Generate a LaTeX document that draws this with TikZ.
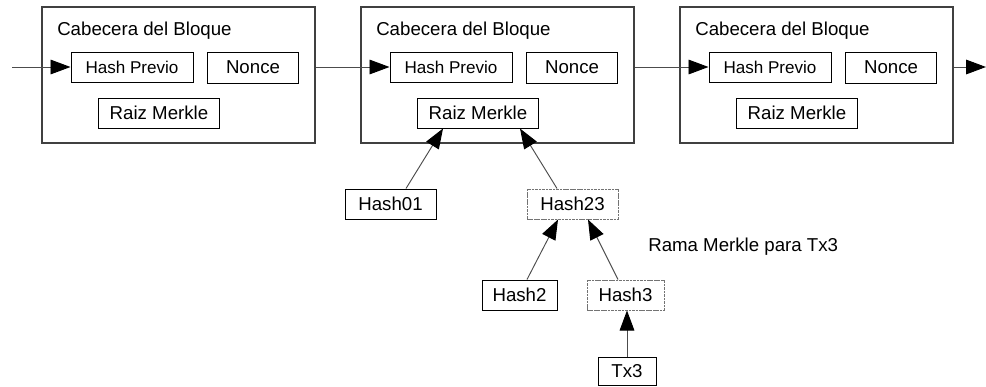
\documentclass[tikz,border=0pt]{standalone}
\usepackage{fontspec}
\setmainfont{Liberation Sans}
\usetikzlibrary{arrows.meta,calc}

\tikzset{
  blockbox/.style={draw=black!75, line width=0.8pt, minimum width=204.75pt, minimum height=102pt},
  field/.style={draw, line width=0.75pt, minimum height=22.5pt, inner sep=0pt, font=\fontsize{14}{16}\selectfont},
  branch/.style={field, draw=black!55, dashed, dash pattern=on 2pt off 0.6pt},
  label/.style={inner sep=0pt, font=\fontsize{14}{16}\selectfont},
  arr/.style={draw=black!70, line width=0.7pt, -{Triangle[length=15pt,width=11pt,fill=black,color=black]}}
}

\begin{document}
\begin{tikzpicture}[x=0.75pt, y=-0.75pt]
  \useasboundingbox (0,0) rectangle (986,386);
  % the three blocks of the chain
  \foreach \i/\L in {1/42, 2/361, 3/680} {
    \node[blockbox] (b\i) at (\L+136.5, 75) {};
    \node[label, anchor=base west] (t\i) at (\L+15, 35) {Cabecera del Bloque};
    \node[field, minimum width=91.5pt, font=\fontsize{12.8}{15}\selectfont] (hp\i) at (\L+90, 67) {Hash Previo};
    \node[field, minimum width=68.25pt, minimum height=23.25pt] (n\i) at (\L+211, 67.5) {Nonce};
    \node[field, minimum width=90.75pt] (r\i) at (\L+117, 113) {Raiz Merkle};
  }
  \coordinate (in) at (12, 67);
  \coordinate (out) at (986, 67);
  \draw[arr] (in) -- (hp1.west);
  \draw[arr] (b1.east |- hp2.west) -- (hp2.west);
  \draw[arr] (b2.east |- hp3.west) -- (hp3.west);
  \draw[arr] (b3.east |- out) -- (out);

  % merkle branch
  \node[field, minimum width=68.25pt] (h01) at (390.5, 204) {Hash01};
  \node[branch, minimum width=68.25pt] (h23) at (572.5, 204) {Hash23};
  \node[field, minimum width=56.25pt] (h2) at (519.5, 295) {Hash2};
  \node[branch, minimum width=57.75pt] (h3) at (625.5, 295) {Hash3};
  \node[field, minimum width=43.5pt, minimum height=21pt] (tx3) at (627, 371) {Tx3};
  \node[label, anchor=west] (rama) at (648, 247) {Rama Merkle para Tx3};

  \draw[arr] ($(h01.north)+(15.5,0)$) -- ($(r2.south)+(-35,0)$);
  \draw[arr] ($(h23.north)+(-15.5,0)$) -- ($(r2.south)+(42,0)$);
  \draw[arr] ($(h2.north)+(7.5,0)$) -- ($(h23.south)+(-14.5,0)$);
  \draw[arr] ($(h3.north)+(-7.5,0)$) -- ($(h23.south)+(15.5,0)$);
  \draw[arr] (tx3.north) -- (tx3.north |- h3.south);
\end{tikzpicture}
\end{document}
